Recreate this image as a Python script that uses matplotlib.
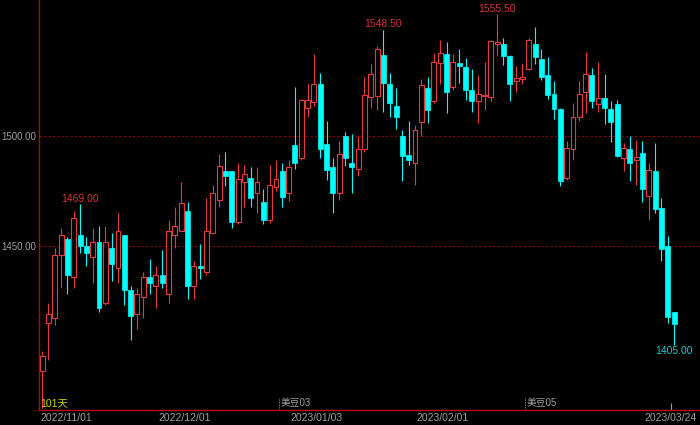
import numpy as np
import matplotlib
matplotlib.use("Agg")
import matplotlib.pyplot as plt
import matplotlib.transforms as mtransforms

# 美豆 daily candles, 101 sessions
opens = [1393, 1415, 1417, 1446, 1453, 1436, 1455, 1450, 1445, 1452,
         1424, 1449, 1440, 1455, 1430, 1419, 1427, 1436, 1432, 1437,
         1428, 1455, 1457, 1466, 1432, 1441, 1438, 1456, 1471, 1484,
         1484, 1461, 1479, 1481, 1474, 1470, 1462, 1477, 1484, 1474,
         1496, 1490, 1513, 1515.5, 1524, 1496.5, 1486, 1474, 1500, 1488,
         1485, 1494, 1518, 1518.5, 1537, 1524, 1514, 1500, 1491.5, 1488,
         1506.5, 1522, 1516, 1533.5, 1537.5, 1522.5, 1533.5, 1531.5, 1521, 1516,
         1518.5, 1518, 1542, 1542, 1536.5, 1525, 1526, 1530.5, 1542, 1535,
         1528, 1519.5, 1512.5, 1481, 1494, 1509, 1520, 1528, 1514.5, 1517.5,
         1512.5, 1514.5, 1490, 1494, 1489, 1492.5, 1473, 1484, 1467.5, 1450,
         1420]
highs = [1402, 1424, 1449, 1458, 1454, 1466, 1469, 1454, 1458, 1459,
         1459, 1456, 1465, 1455, 1432, 1431, 1438, 1444, 1441, 1448,
         1462, 1468, 1479, 1470, 1443, 1451, 1472, 1478, 1492, 1493,
         1484, 1488, 1487, 1486, 1486, 1476, 1487, 1489, 1488, 1489,
         1522.5, 1517, 1524, 1537.5, 1529, 1507, 1490, 1498, 1502, 1501,
         1500, 1527, 1533, 1541, 1548.5, 1529, 1522, 1503, 1507, 1505,
         1526, 1527, 1538, 1544, 1543, 1537.5, 1540, 1535.5, 1530.5, 1528,
         1534, 1544, 1555.5, 1545, 1537, 1532, 1533.5, 1545, 1550, 1540,
         1536, 1525, 1513, 1498, 1515, 1525, 1538.5, 1531, 1534, 1528.5,
         1516, 1516.5, 1497, 1500, 1498.5, 1498, 1488, 1497, 1472, 1454.5,
         1420]
lows = [1376, 1398, 1414, 1431, 1428, 1431, 1447, 1441, 1433, 1420,
        1423, 1434, 1433, 1423, 1407, 1412, 1417, 1428, 1422, 1431,
        1424, 1449, 1457, 1426, 1426, 1435, 1437, 1456, 1468, 1477.5,
        1458, 1460, 1468, 1468, 1465, 1460, 1460.5, 1475, 1468, 1470.5,
        1485, 1489, 1509, 1514, 1490, 1480, 1465, 1471, 1486.5, 1474,
        1482, 1493, 1513, 1512, 1511, 1509, 1503.5, 1479.5, 1487, 1478,
        1500, 1506, 1515, 1524, 1510.5, 1521, 1524.5, 1516.5, 1511, 1506,
        1512, 1516, 1537, 1532.5, 1516, 1520, 1524, 1530, 1533, 1525.5,
        1517, 1508, 1477.5, 1480, 1489, 1507, 1510.5, 1513, 1511, 1505.5,
        1497.5, 1490.5, 1484, 1479.5, 1478, 1470, 1462, 1465, 1443, 1415,
        1405]
closes = [1400, 1419, 1446, 1455, 1437, 1463, 1450, 1447, 1452, 1422,
          1452, 1442, 1457, 1430, 1418, 1428, 1436, 1433, 1437, 1433,
          1457, 1459, 1469.5, 1432, 1441, 1440, 1457, 1474, 1486.5, 1482,
          1461, 1480.5, 1483, 1472, 1479, 1462, 1478, 1480.5, 1472.5, 1486,
          1488, 1516.5, 1516.5, 1524, 1494, 1484.5, 1474, 1492, 1490, 1486,
          1494, 1519, 1528.5, 1540, 1524.5, 1515, 1509, 1491, 1489, 1503,
          1523.5, 1512, 1534, 1538, 1520, 1534, 1532, 1521, 1516, 1519.5,
          1519, 1543.5, 1543, 1536.5, 1524, 1526.5, 1527, 1544, 1536, 1527,
          1519, 1512.5, 1479.5, 1494.5, 1509, 1519.5, 1528.5, 1516, 1517.5, 1513,
          1506.5, 1491, 1494.5, 1488, 1490.5, 1476, 1484.5, 1467, 1448.5, 1417.5,
          1414.5]

date_pos = [3.8, 22.5, 43.4, 63.3, 99.5]
date_labels = ["2022/11/01", "2022/12/01", "2023/01/03", "2023/02/01", "2023/03/24"]
roll_pos = [37.5, 76.4]
roll_labels = ["美豆03", "美豆05"]
price_ticks = [1450, 1500]
# (candle index, "high"/"low") of the price labels on the chart
marks = [(6, "high"), (54, "high"), (72, "high"), (100, "low")]

RED = "#e8393a"
CYAN = "#00ffff"
GRAY = "#a0a0a0"

plt.rcParams['font.family'] = ['Liberation Sans', 'Noto Sans CJK SC', 'DejaVu Sans']

o = np.array(opens, dtype=float)
h = np.array(highs, dtype=float)
l = np.array(lows, dtype=float)
c = np.array(closes, dtype=float)
x = np.arange(len(o))
up = c >= o

fig = plt.figure(figsize=(7, 4.25), dpi=100, facecolor="black")
ax = fig.add_axes([39 / 700, 15 / 425, 661 / 700, 410 / 425])
ax.set_facecolor("black")

# wicks
ax.vlines(x[up], l[up], h[up], color=RED, lw=0.8, zorder=2)
ax.vlines(x[~up], l[~up], h[~up], color=CYAN, lw=0.8, zorder=2)
# bodies: hollow red for up days, solid cyan for down days
ax.bar(x[up], c[up] - o[up], bottom=o[up], width=0.78,
       facecolor="black", edgecolor=RED, lw=0.8, zorder=3)
ax.bar(x[~up], o[~up] - c[~up], bottom=c[~up], width=0.78,
       facecolor=CYAN, edgecolor=CYAN, lw=0.5, zorder=3)

ax.set_xlim(-0.5, 104.1)
ax.set_ylim(1375.3, 1562.1)

for p in price_ticks:
    ax.axhline(p, color="#8c0000", lw=0.8, linestyle=(0, (2, 2)), zorder=1)

for side in ["top", "right"]:
    ax.spines[side].set_visible(False)
for side in ["left", "bottom"]:
    ax.spines[side].set_color("#c00000")
    ax.spines[side].set_linewidth(1)

ax.set_yticks(price_ticks)
ax.set_yticklabels(["%.2f" % p for p in price_ticks])
ax.set_xticks(date_pos)
ax.set_xticklabels(date_labels)
ax.tick_params(axis="y", length=0, colors=GRAY, labelsize=7, pad=2)
ax.tick_params(axis="x", length=0, colors=GRAY, labelsize=7.5, pad=2)

# high / low price labels
for i, kind in marks:
    if kind == "high":
        ax.annotate("%.2f" % h[i], (i, h[i]), xytext=(0, 0.5),
                    textcoords="offset points", ha="center", va="bottom",
                    color="#d83434", fontsize=7.5)
    else:
        ax.annotate("%.2f" % l[i], (i, l[i]), xytext=(0, -0.5),
                    textcoords="offset points", ha="center", va="top",
                    color="#20c8c8", fontsize=7.5)

trans = mtransforms.blended_transform_factory(ax.transData, ax.transAxes)
ax.text(-0.35, 0.004, "101天", transform=trans, color="#d0d000",
        fontsize=7.5, ha="left", va="bottom")
for p, lab in zip(roll_pos, roll_labels):
    ax.vlines(p, 0.003, 0.03, transform=trans, color=GRAY, lw=0.6,
              linestyles=(0, (1, 1)))
    ax.text(p + 0.2, 0.004, lab, transform=trans, color=GRAY,
            fontsize=7, ha="left", va="bottom")
ax.vlines(date_pos[-1], 0, 0.018, transform=trans, color=GRAY, lw=0.8)

fig.savefig("out.png", dpi=100, facecolor="black")
